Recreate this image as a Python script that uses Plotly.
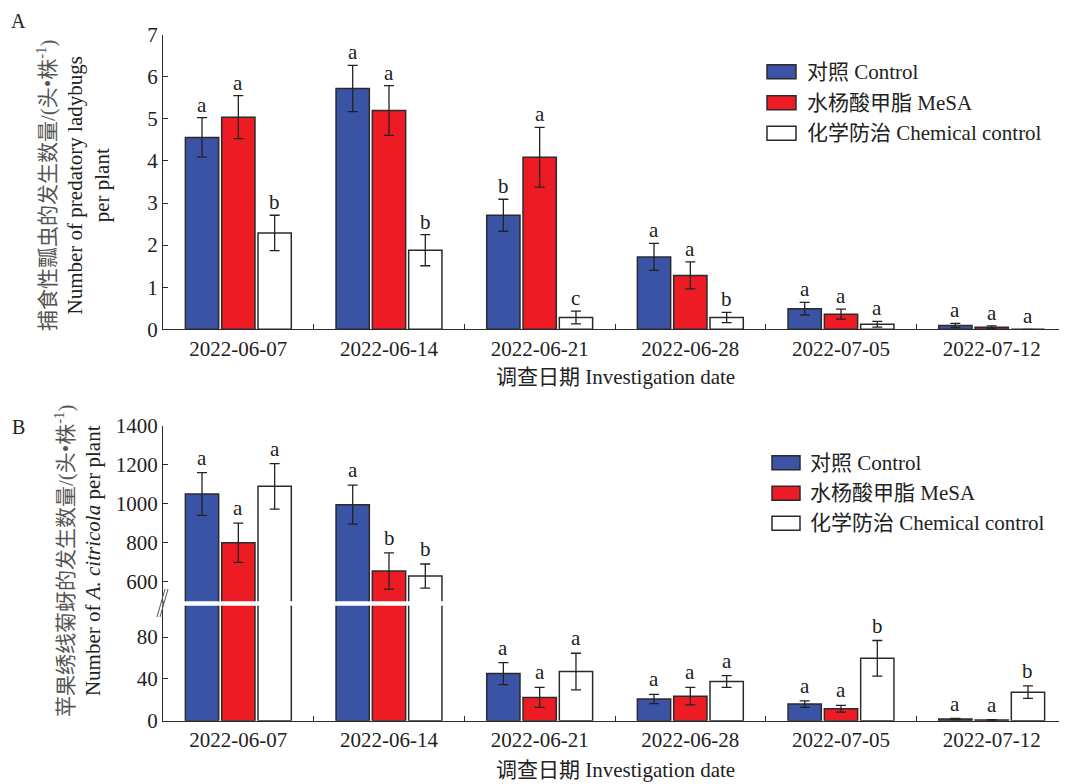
import plotly.graph_objects as go

# ---------------- data ----------------
dates = ["2022-06-07", "2022-06-14", "2022-06-21", "2022-06-28", "2022-07-05", "2022-07-12"]
series_names = ["对照 Control", "水杨酸甲脂 MeSA", "化学防治 Chemical control"]

# Panel A: predatory ladybugs per plant
a_control = [4.56, 5.72, 2.71, 1.72, 0.49, 0.09]
a_control_err = [0.47, 0.55, 0.38, 0.32, 0.15, 0.05]
a_mesa = [5.04, 5.20, 4.09, 1.28, 0.36, 0.05]
a_mesa_err = [0.51, 0.59, 0.71, 0.32, 0.12, 0.03]
a_chem = [2.29, 1.88, 0.28, 0.28, 0.12, 0.0]
a_chem_err = [0.42, 0.37, 0.15, 0.12, 0.07, 0.0]
a_control_sig = ["a", "a", "b", "a", "a", "a"]
a_mesa_sig = ["a", "a", "a", "a", "a", "a"]
a_chem_sig = ["b", "b", "c", "b", "a", "a"]

# Panel B: A. citricola per plant
b_control = [1051, 996, 45.1, 20.7, 15.9, 1.6]
b_control_err = [110, 100, 10.5, 4.4, 3.1, 0.5]
b_mesa = [800, 655, 22.3, 23.5, 11.4, 0.7]
b_mesa_err = [101, 93, 9.5, 8.3, 3.2, 0.3]
b_chem = [1090, 629, 47.0, 37.5, 59.7, 27.3]
b_chem_err = [117, 62, 17.5, 5.7, 17.0, 6.0]
b_control_sig = ["a", "a", "a", "a", "a", "a"]
b_mesa_sig = ["a", "b", "a", "a", "a", "a"]
b_chem_sig = ["a", "b", "a", "a", "b", "b"]

a_ticks = [0, 1, 2, 3, 4, 5, 6, 7]
b_upper_ticks = [600, 800, 1000, 1200, 1400]
b_lower_ticks = [0, 40, 80]
b_upper_range = [500, 1400]
b_lower_range = [0, 110]

# ---------------- style ----------------
# the page body has an 8px margin, so the figure is placed at (8, 8)
OFF = 8
W, H = 1067 - OFF, 784 - OFF
ML, MR = 163 - OFF, 0
PW = W - ML - MR
colors = ["#3A53A4", "#ED1C24", "#FFFFFF"]
edge = "#2B2B2B"
ink = "#222222"
FONT = "Liberation Serif, 'Noto Sans CJK SC', serif"
FS = 21
BARGAP = 0.277
GROUPGAP = 0.083


def px_x(px):
    """window pixel x -> paper fraction"""
    return (px - OFF - ML) / PW


def px_y(py):
    """window pixel y -> paper fraction"""
    return 1 - (py - OFF) / H


fig = go.Figure()

panel_a = [(a_control, a_control_err, a_control_sig),
           (a_mesa, a_mesa_err, a_mesa_sig),
           (a_chem, a_chem_err, a_chem_sig)]
panel_b = [(b_control, b_control_err, b_control_sig),
           (b_mesa, b_mesa_err, b_mesa_sig),
           (b_chem, b_chem_err, b_chem_sig)]


def add_bars(vals, errs, i, xa, ya):
    fig.add_trace(go.Bar(
        x=dates, y=vals, name=series_names[i], xaxis=xa, yaxis=ya,
        marker=dict(color=colors[i], line=dict(color=edge, width=1.5)),
        error_y=dict(type="data", array=errs, visible=True, color=ink,
                     thickness=1.3, width=5),
        showlegend=False,
    ))


for i, (v, e, s) in enumerate(panel_a):
    add_bars(v, e, i, "x", "y")
for i, (v, e, s) in enumerate(panel_b):
    add_bars(v, e, i, "x2", "y2")
for i, (v, e, s) in enumerate(panel_b):
    add_bars(v, e, i, "x2", "y3")

cat_px = PW / len(dates)
slot_px = (1 - BARGAP) / 3 * cat_px

annotations = []
for i, (v, e, s) in enumerate(panel_a):
    for d, val, err, lab in zip(dates, v, e, s):
        annotations.append(dict(
            x=d, y=val + err, xref="x", yref="y", text=lab, showarrow=False,
            xanchor="center", yanchor="bottom", xshift=(i - 1) * slot_px, yshift=-1,
            font=dict(family=FONT, size=FS, color=ink)))
for i, (v, e, s) in enumerate(panel_b):
    for d, val, err, lab in zip(dates, v, e, s):
        top = val + err
        yr = "y3" if top >= b_upper_range[0] else "y2"
        annotations.append(dict(
            x=d, y=top, xref="x2", yref=yr, text=lab, showarrow=False,
            xanchor="center", yanchor="bottom", xshift=(i - 1) * slot_px, yshift=1,
            font=dict(family=FONT, size=FS, color=ink)))

# panel letters
annotations.append(dict(x=px_x(10), y=px_y(9), xref="paper", yref="paper", text="A",
                        showarrow=False, xanchor="left", yanchor="top", borderpad=0,
                        font=dict(family=FONT, size=20, color=ink)))
annotations.append(dict(x=px_x(10), y=px_y(427), xref="paper", yref="paper", text="B",
                        showarrow=False, xanchor="left", yanchor="middle",
                        font=dict(family=FONT, size=20, color=ink)))

# y titles
annotations.append(dict(
    x=px_x(74), y=px_y(186), xref="paper", yref="paper", textangle=-90,
    text="<span style='color:#555555'>捕食性瓢虫的发生数量/(头•株<sup>-1</sup>)</span><br>"
         "Number of predatory ladybugs<br>per plant",
    showarrow=False, xanchor="center", yanchor="middle",
    font=dict(family=FONT, size=FS, color=ink)))
annotations.append(dict(
    x=px_x(78), y=px_y(561), xref="paper", yref="paper", textangle=-90,
    text="<span style='color:#555555'>苹果绣线菊蚜的发生数量/(头•株<sup>-1</sup>)</span><br>"
         "Number of <i>A. citricola</i> per plant",
    showarrow=False, xanchor="center", yanchor="middle",
    font=dict(family=FONT, size=FS, color=ink)))

# x titles
for py in (377, 770):
    annotations.append(dict(
        x=px_x(615), y=px_y(py), xref="paper", yref="paper",
        text="调查日期 Investigation date", showarrow=False,
        xanchor="center", yanchor="middle",
        font=dict(family=FONT, size=FS, color=ink)))

# legends (drawn manually)
shapes = []
for (sx0, sx1, tx, rows) in [(767, 796, 805, (71.7, 102.7, 133.3)),
                             (772, 800, 808, (462.7, 493.3, 523.3))]:
    for i, ry in enumerate(rows):
        shapes.append(dict(type="rect", xref="paper", yref="paper",
                           x0=px_x(sx0), x1=px_x(sx1), y0=px_y(ry - 7), y1=px_y(ry + 7),
                           fillcolor=colors[i], line=dict(color=edge, width=1.5)))
        annotations.append(dict(x=px_x(tx), y=px_y(ry), xref="paper", yref="paper",
                                text=series_names[i], showarrow=False,
                                xanchor="left", yanchor="middle",
                                font=dict(family=FONT, size=FS, color=ink)))

# axis break marks and bridge
shapes.append(dict(type="line", xref="paper", yref="paper",
                   x0=0, x1=0, y0=px_y(601), y1=px_y(606),
                   line=dict(color=edge, width=1.3)))
for dx in (0, 3):
    shapes.append(dict(type="line", xref="paper", yref="paper",
                       x0=px_x(157 + dx), x1=px_x(165 + dx), y0=px_y(617), y1=px_y(589),
                       line=dict(color="#555555", width=1)))

axis_common = dict(showline=True, linecolor=edge, linewidth=1.3, ticks="inside",
                   tickcolor=edge, ticklen=5, tickwidth=1.2, showgrid=False, zeroline=False,
                   automargin=False,
                   tickfont=dict(family=FONT, size=FS, color=ink))

fig.update_layout(
    width=W, height=H,
    margin=dict(l=ML, r=MR, t=0, b=0, autoexpand=False),
    paper_bgcolor="white", plot_bgcolor="white",
    barmode="group", bargap=BARGAP, bargroupgap=GROUPGAP,
    showlegend=False,
    xaxis=dict(domain=[0, 1], anchor="y", type="category", tickson="boundaries",
               categoryorder="array", categoryarray=dates, **axis_common),
    yaxis=dict(domain=[px_y(329.3), px_y(34.7)], anchor="x", range=[0, 7],
               tickvals=a_ticks, **axis_common),
    xaxis2=dict(domain=[0, 1], anchor="y2", type="category", tickson="boundaries",
                categoryorder="array", categoryarray=dates, **axis_common),
    yaxis2=dict(domain=[px_y(720.7), px_y(605.7)], anchor="x2", range=b_lower_range,
                tickvals=b_lower_ticks, **axis_common),
    yaxis3=dict(domain=[px_y(601.2), px_y(426)], anchor="x2", range=b_upper_range,
                tickvals=b_upper_ticks, **axis_common),
    annotations=annotations,
    shapes=shapes,
    font=dict(family=FONT, size=FS, color=ink),
)

fig.write_html("out.html")
